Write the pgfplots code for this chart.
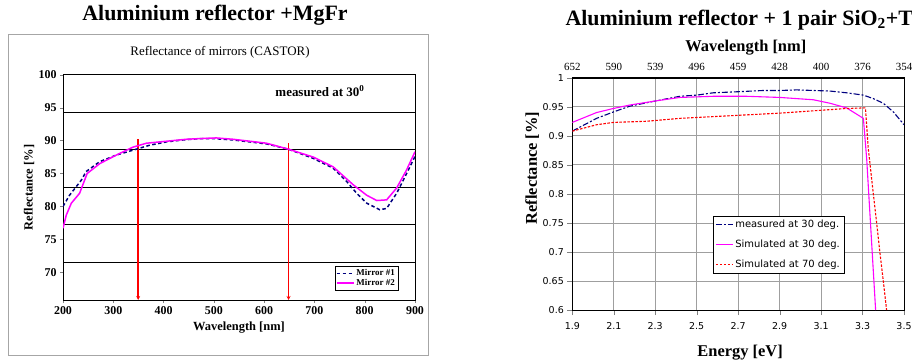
\documentclass[border=0pt]{standalone}
\usepackage{pgfplots}
\pgfplotsset{compat=1.18}
\usepackage{fontspec}
\setmainfont{Liberation Serif}
\newfontfamily\sansf{DejaVu Sans}
\usetikzlibrary{arrows.meta}
\definecolor{navy}{HTML}{000080}
\definecolor{magen}{HTML}{FF00FF}
\definecolor{redd}{HTML}{FF0000}
\begin{document}
\begin{tikzpicture}[x=1bp,y=1bp]
\useasboundingbox (0,0) rectangle (912,360);
\clip (0,0) rectangle (912,360);
\fill[white] (0,0) rectangle (912,360);
% ---------------- left chart ----------------
\draw[gray!70, line width=1bp] (8,5) rectangle (428,325);
\node[font=\fontsize{22}{26}\selectfont\bfseries] at (215,345) {Aluminium reflector +MgFr};
\node[font=\fontsize{13}{15}\selectfont] at (220,308) {Reflectance of mirrors (CASTOR)};
\begin{axis}[
  at={(63bp,60bp)}, anchor=south west, scale only axis,
  width=352bp, height=225.3bp,
  xmin=200, xmax=900, ymin=65.8, ymax=100,
  xtick={200,300,400,500,600,700,800,900},
  ytick={70,75,80,85,90,95,100},
  /pgf/number format/assume math mode=true,
  tick label style={font=\fontsize{12}{14}\selectfont\bfseries},
  tick align=outside, xtick pos=left, ytick pos=left,
  major tick length=3bp,
  axis line style={black, line width=0.8bp},
  extra y ticks={94.28,88.62,82.9,77.24,71.52},
  extra y tick labels={},
  extra y tick style={grid=major, major grid style={black, line width=0.7bp}, major tick length=0pt},
  xlabel={Wavelength [nm]}, ylabel={Reflectance [\%]},
  label style={font=\fontsize{12.5}{14}\selectfont\bfseries},
  xlabel style={at={(axis description cs:0.5,-0.124)}, anchor=center},
  ylabel style={at={(axis description cs:-0.0966,0.5)}, anchor=center},
  legend style={at={(0.952,0.044)}, anchor=south east, font=\fontsize{9}{10}\selectfont\bfseries,
    draw=black, inner sep=1bp, row sep=-2bp, cells={anchor=west}},
]
\addplot[redd, line width=1.8bp, -{Stealth[length=4bp,width=4bp]}, forget plot] coordinates {(349.5,90.2)(349.5,65.8)};
\addplot[redd, line width=1.8bp, -{Stealth[length=4bp,width=4bp]}, forget plot] coordinates {(648.5,89.6)(648.5,65.8)};
\addplot[navy, line width=1.5bp, dash pattern=on 3.5bp off 2.5bp] coordinates {
(200,80.0)(213,81.7)(236.5,84.0)(246,85.3)(273,86.8)(306,87.8)(346,88.7)(372.5,89.3)(405.7,89.8)(439,90.1)(472,90.3)(498.6,90.3)(538,90.1)(604.7,89.5)(648,88.7)(697.6,87.3)(737.5,85.8)(764,83.8)(784,82.0)(804,80.5)(830,79.5)(843.6,79.7)(863.5,82.0)(883.4,85.0)(900,87.6)};
\addlegendentry{Mirror \#1}
\addplot[magen, line width=1.5bp] coordinates {
(200,76.7)(206.6,78.7)(216.6,80.5)(233,82)(248,85.0)(273,86.5)(306,87.8)(339,89.0)(366,89.6)(405.7,89.9)(445.5,90.2)(472,90.3)(505,90.4)(538,90.2)(604.7,89.6)(648,88.7)(697.6,87.5)(737.5,86.0)(777,83.3)(804,81.7)(824,80.9)(843.6,81.0)(863.5,82.8)(883,85.5)(900,88.3)};
\addlegendentry{Mirror \#2}
\node[font=\fontsize{13}{15}\selectfont\bfseries] at (axis cs:711,97.5) {measured at 30\textsuperscript{0}};
\end{axis}
% ---------------- right chart ----------------
\node[font=\fontsize{22}{26}\selectfont\bfseries, anchor=west] at (562,340) {Aluminium reflector + 1 pair SiO\textsubscript{2}+TiO\textsubscript{2}};
\begin{axis}[
  at={(572.3bp,50bp)}, anchor=south west, scale only axis,
  width=331.7bp, height=232.3bp,
  xmin=1.9, xmax=3.5, ymin=0.6, ymax=1,
  xtick={1.9,2.1,2.3,2.5,2.7,2.9,3.1,3.3,3.5},
  ytick={0.6,0.65,0.7,0.75,0.8,0.85,0.9,0.95,1},
  /pgf/number format/assume math mode=true,
  tick label style={font=\sansf\fontsize{9.5}{11}\selectfont},
  xticklabel style={yshift=-4bp},
  tick align=outside, xtick pos=left, ytick pos=left,
  major tick length=5bp,
  grid=major, major grid style={gray!75, line width=0.7bp},
  axis line style={black, line width=0.8bp},
  xlabel={Energy [eV]}, ylabel={Reflectance [\%]},
  label style={font=\fontsize{16.5}{18}\selectfont\bfseries},
  xlabel style={at={(axis description cs:0.506,-0.185)}, anchor=center},
  ylabel style={at={(axis description cs:-0.1206,0.611)}, anchor=center},
  legend style={at={(0.819,0.159)}, anchor=south east, font=\sansf\fontsize{10}{12}\selectfont,
    draw=black, fill=white, inner sep=2bp, row sep=7bp, cells={anchor=west}},
]
\addplot[navy, line width=1.1bp, dash pattern=on 6bp off 2bp on 2bp off 2bp] coordinates {
(1.9,0.908)(2.017,0.930)(2.098,0.941)(2.178,0.951)(2.302,0.960)(2.419,0.968)(2.5,0.970)(2.58,0.974)(2.709,0.976)(2.821,0.978)(2.902,0.978)(2.982,0.979)(3.063,0.978)(3.143,0.977)(3.223,0.974)(3.304,0.970)(3.352,0.964)(3.4,0.956)(3.449,0.941)(3.5,0.919)};
\addlegendentry{measured at 30 deg.}
\addplot[magen, line width=1.1bp] coordinates {
(1.9,0.923)(2.017,0.940)(2.098,0.947)(2.178,0.953)(2.302,0.960)(2.419,0.966)(2.5,0.967)(2.58,0.968)(2.741,0.968)(2.902,0.966)(2.982,0.964)(3.063,0.962)(3.143,0.956)(3.223,0.948)(3.304,0.930)(3.32,0.86)(3.363,0.6)};
\addlegendentry{Simulated at 30 deg.}
\addplot[redd, line width=1.1bp, dash pattern=on 2.5bp off 1.5bp] coordinates {
(1.9,0.908)(2.017,0.919)(2.098,0.923)(2.258,0.925)(2.419,0.930)(2.58,0.933)(2.741,0.936)(2.902,0.939)(3.063,0.943)(3.223,0.947)(3.311,0.948)(3.314,0.948)(3.327,0.88)(3.352,0.80)(3.368,0.75)(3.384,0.698)(3.4,0.65)(3.416,0.6)};
\addlegendentry{Simulated at 70 deg.}
\end{axis}
\begin{axis}[
  at={(572.3bp,50bp)}, anchor=south west, scale only axis,
  width=331.7bp, height=232.3bp,
  xmin=1.9, xmax=3.5, ymin=0.6, ymax=1,
  axis x line*=top, hide y axis,
  xtick={1.9,2.1,2.3,2.5,2.7,2.9,3.1,3.3,3.5},
  xticklabels={652,590,539,496,459,428,400,376,354},
  tick label style={font=\fontsize{11}{13}\selectfont},
  major tick length=0pt,
  xticklabel style={yshift=4bp},
  xlabel={Wavelength [nm]},
  label style={font=\fontsize{16.5}{18}\selectfont\bfseries},
  xlabel style={at={(axis description cs:0.523,1.128)}, anchor=center},
]
\addplot[draw=none, forget plot] coordinates {(2,0.7)};
\end{axis}
\end{tikzpicture}
\end{document}
